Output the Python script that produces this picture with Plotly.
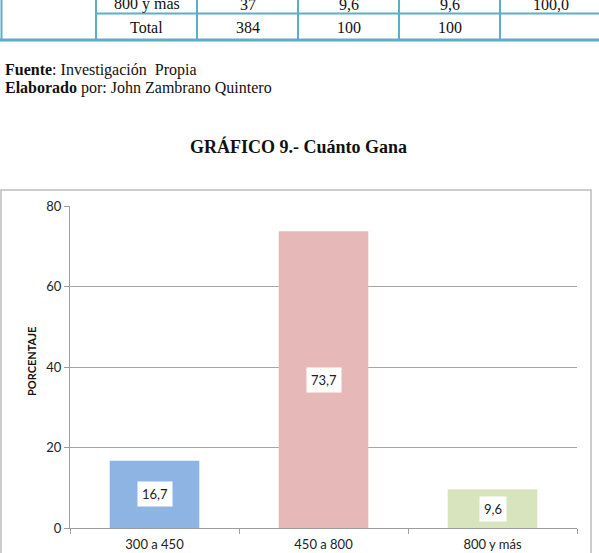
import plotly.graph_objects as go

# ---- data ----
categories = ["300 a 450", "450 a 800", "800 y más"]
porcentaje = [16.7, 73.7, 9.6]
labels = ["16,7", "73,7", "9,6"]
bar_colors = ["#8EB4E3", "#E6B9B8", "#D7E4BD"]
y_ticks = [0, 20, 40, 60, 80]

table_rows = [
    ["800 y más", "37", "9,6", "9,6", "100,0"],
    ["Total", "384", "100", "100", ""],
]

W, H = 599, 553


def px(x):
    return x / W


def py(y):
    return 1 - y / H


fig = go.Figure()
fig.add_trace(go.Bar(
    x=categories, y=porcentaje,
    marker=dict(color=bar_colors, line=dict(width=0)),
    hoverinfo="skip",
))

ann = []
shapes = []

# data labels (white boxes centered in bars)
for c, v, t in zip(categories, porcentaje, labels):
    ann.append(dict(x=c, y=v / 2, xref="x", yref="y", text=t, showarrow=False,
                    xanchor="center", yanchor="middle",
                    bgcolor="white", borderpad=4,
                    font=dict(family="Lato", size=13, color="#222")))

# y axis title
ann.append(dict(x=px(31), y=py(362), xref="paper", yref="paper",
                xanchor="center", yanchor="middle",
                text="<b>PORCENTAJE</b>", textangle=-90, showarrow=False,
                font=dict(family="Lato", size=11, color="#111")))

# texts above chart
serif = "Liberation Serif"
ann.append(dict(x=px(3), y=py(70), xref="paper", yref="paper",
                xanchor="left", yanchor="middle",
                text="<b>Fuente</b>: Investigación&nbsp; Propia", showarrow=False,
                font=dict(family=serif, size=16, color="#111")))
ann.append(dict(x=px(3), y=py(88), xref="paper", yref="paper",
                xanchor="left", yanchor="middle",
                text="<b>Elaborado</b> por: John Zambrano Quintero", showarrow=False,
                font=dict(family=serif, size=16, color="#111")))
ann.append(dict(x=px(298), y=py(147), xref="paper", yref="paper",
                xanchor="center", yanchor="middle",
                text="<b>GRÁFICO 9.- Cuánto Gana</b>", showarrow=False,
                font=dict(family=serif, size=18, color="#111")))

# table fragment
col_edges = [96, 197, 298, 399, 500, 601]
row_centers = [4, 27]
tcol = "#5AAFC7"
for r, row in enumerate(table_rows):
    for i, cell in enumerate(row):
        if cell:
            ann.append(dict(x=px((col_edges[i] + col_edges[i + 1]) / 2), y=py(row_centers[r]),
                            xref="paper", yref="paper", text=cell, showarrow=False,
                            xanchor="center", yanchor="middle",
                            font=dict(family=serif, size=16, color="#111")))
for xe in [1.5] + col_edges[:-1]:
    shapes.append(dict(type="line", xref="paper", yref="paper",
                       x0=px(xe), x1=px(xe), y0=py(-5), y1=py(40),
                       line=dict(color=tcol, width=2)))
shapes.append(dict(type="line", xref="paper", yref="paper",
                   x0=px(96), x1=px(605), y0=py(13.5), y1=py(13.5),
                   line=dict(color=tcol, width=2)))
shapes.append(dict(type="line", xref="paper", yref="paper",
                   x0=px(0), x1=px(605), y0=py(40), y1=py(40),
                   line=dict(color=tcol, width=3)))

# chart border
shapes.append(dict(type="rect", xref="paper", yref="paper",
                   x0=px(1), x1=px(591), y0=py(190), y1=py(560),
                   line=dict(color="#BDBDBD", width=1.5)))

fig.update_layout(
    width=W, height=H,
    margin=dict(l=0, r=0, t=0, b=0, autoexpand=False),
    paper_bgcolor="white", plot_bgcolor="white",
    showlegend=False,
    bargap=0.47,
    annotations=ann,
    shapes=shapes,
    xaxis=dict(domain=[px(70), px(577)], showgrid=False, automargin=False,
               showline=True, linecolor="#9E9E9E", linewidth=1,
               ticks="outside", tickson="boundaries", ticklen=5, tickcolor="#9E9E9E",
               ticklabelstandoff=4,
               tickfont=dict(family="Lato", size=13, color="#222"),
               fixedrange=True),
    yaxis=dict(domain=[py(528), py(206)], range=[0, 80], tickvals=y_ticks,
               automargin=False,
               showgrid=True, gridcolor="#A6A6A6", gridwidth=1,
               showline=True, linecolor="#9E9E9E", linewidth=1,
               ticks="outside", ticklen=5, tickcolor="#9E9E9E",
               tickfont=dict(family="Lato", size=13, color="#222"),
               zeroline=False, fixedrange=True),
)

fig.write_html("out.html")
